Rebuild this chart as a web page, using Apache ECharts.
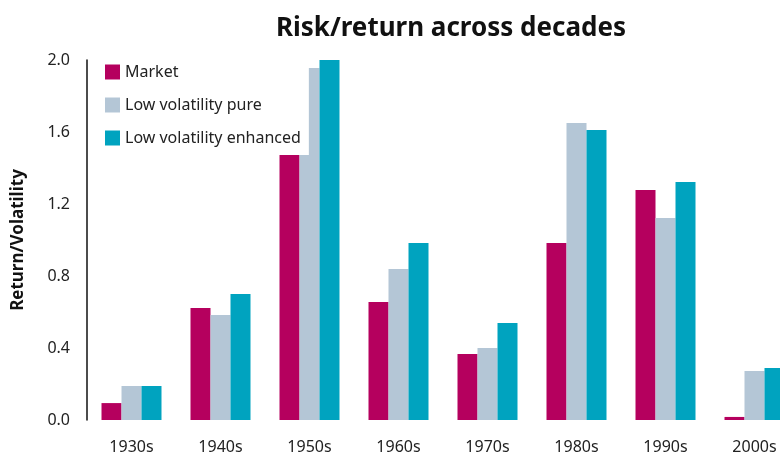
<!DOCTYPE html>
<html><head><meta charset="utf-8">
<script src="https://cdn.jsdelivr.net/npm/echarts@6/dist/echarts.min.js"></script>
<style>html,body{margin:0;padding:0;background:#fff}#c{width:780px;height:459px}</style>
</head><body><div id="c"></div>
<script>
const categories = ['1930s','1940s','1950s','1960s','1970s','1980s','1990s','2000s'];
const market = [0.094, 0.622, 1.494, 0.656, 0.367, 0.983, 1.278, 0.017];
const lowVolPure = [0.189, 0.583, 1.956, 0.839, 0.400, 1.650, 1.122, 0.272];
const lowVolEnhanced = [0.189, 0.700, 2.000, 0.983, 0.539, 1.611, 1.322, 0.289];
const yTicks = ['0.0','0.4','0.8','1.2','1.6','2.0'];

const font = 'Noto Sans';
const chart = echarts.init(document.getElementById('c'), null, {renderer:'canvas'});
const mk = (name, data, color) => ({
  name, type:'bar', data, barWidth:20, barGap:'0%',
  itemStyle:{color}, emphasis:{disabled:true}
});
chart.setOption({
  animation:false,
  backgroundColor:'#fff',
  title:{text:'Risk/return across decades', left:446, top:11, textAlign:'center',
    textStyle:{fontFamily:font, fontSize:26, fontWeight:'bold', color:'#111'}},
  legend:{orient:'vertical', left:97, top:56, itemWidth:15, itemHeight:15, itemGap:17,
    backgroundColor:'#fff', padding:[8,8,9,8], icon:'rect',
    textStyle:{fontFamily:font, fontSize:16, color:'#222'}},
  grid:{left:87, width:712, top:60, height:360, containLabel:false, outerBoundsMode:'none'},
  xAxis:{type:'category', data:categories,
    axisLine:{show:false}, axisTick:{show:false},
    axisLabel:{fontFamily:font, fontSize:16, color:'#222', margin:19}},
  yAxis:{type:'value', min:0, max:2.0, interval:0.4, position:'left',
    name:'Return/Volatility', nameLocation:'middle', nameGap:60, nameRotate:90,
    nameTextStyle:{fontFamily:font, fontSize:17, fontWeight:'bold', color:'#111'},
    axisLine:{show:true, onZero:false, lineStyle:{color:'#111', width:1.5}}, axisTick:{show:false},
    splitLine:{show:false},
    axisLabel:{fontFamily:font, fontSize:16, color:'#222', margin:17,
      formatter:(v)=>yTicks[Math.round(v/0.4)] ?? v.toFixed(1)}},
  series:[
    mk('Market', market, '#B5005E'),
    mk('Low volatility pure', lowVolPure, '#B4C6D6'),
    mk('Low volatility enhanced', lowVolEnhanced, '#00A3BF')
  ]
});
</script></body></html>
